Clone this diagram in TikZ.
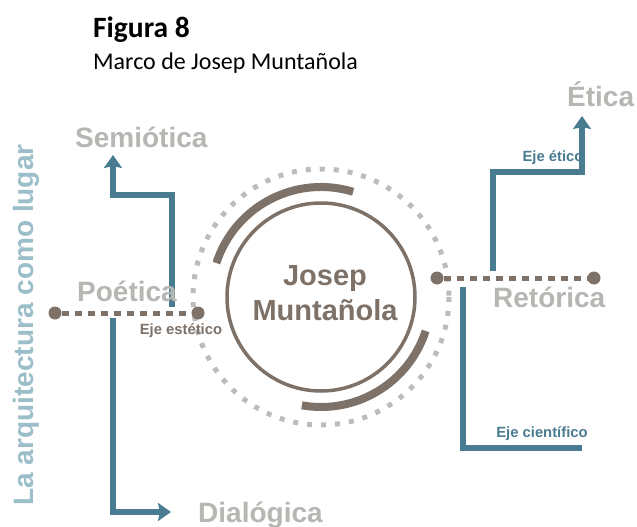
\documentclass[tikz,border=0pt]{standalone}
\usepackage{fontspec}
\setmainfont{Carlito}
\newfontfamily\labfont{Liberation Sans}
\usetikzlibrary{arrows.meta}
\definecolor{blu}{RGB}{74,124,145}
\definecolor{brn}{RGB}{125,113,104}
\definecolor{lgray}{RGB}{182,182,178}
\definecolor{dotgray}{RGB}{188,188,188}
\definecolor{vtext}{RGB}{155,190,201}
\tikzset{
  biglabel/.style={font=\labfont\bfseries\fontsize{28}{30}\selectfont, text=lgray, inner sep=0, anchor=base west},
  centertext/.style={font=\labfont\bfseries\fontsize{29}{34}\selectfont, text=brn, inner sep=0, anchor=base},
  axislabel/.style={font=\labfont\bfseries\fontsize{14.8}{16}\selectfont, inner sep=0},
  dotnode/.style={circle, fill=brn, inner sep=0, minimum size=13pt},
  axisline/.style={brn, line width=5pt, dash pattern=on 7pt off 6pt},
  blueline/.style={blu, line width=6pt},
  bluearrow/.style={blueline, -{Stealth[width=18pt,length=13pt,inset=2pt]}},
  thickarc/.style={brn, line width=8pt},
}
\begin{document}
\begin{tikzpicture}[x=1pt,y=-1pt]
\useasboundingbox (0,0) rectangle (637,527);
% title
\node[font=\bfseries\fontsize{29.5}{32}\selectfont, inner sep=0, anchor=base west] (fig) at (93,38) {Figura 8};
\node[font=\fontsize{24}{28}\selectfont, inner sep=0, anchor=base west] (sub) at (93,70) {Marco de Josep Muntañola};
% circles
\coordinate (c) at (321,297);
\draw[dotgray, line width=5pt, dash pattern=on 5pt off 9pt] (c) circle[radius=128];
\draw[brn, line width=3.5pt] (c) circle[radius=94];
\draw[thickarc] (c) ++(-73:110) arc[start angle=-73, end angle=-162, radius=110];
\draw[thickarc] (c) ++(100:110) arc[start angle=100, end angle=18, radius=110];
\node[centertext] (jo) at (325,285) {Josep};
\node[centertext] (mu) at (325,320) {Muntañola};
% axes
\node[dotnode] (pl) at (55,313) {};
\node[dotnode] (pr) at (198,313) {};
\node[dotnode] (rl) at (437,278) {};
\node[dotnode] (rr) at (594,278) {};
\draw[axisline] (pl) -- (pr);
\draw[axisline] (rl) -- (rr);
% blue paths
\coordinate (s0) at (172,307);
\coordinate (s1) at (113,155);
\draw[bluearrow] (s0) -- (172,195) -- (113,195) -- (s1);
\coordinate (d0) at (113,318);
\coordinate (d1) at (171,512);
\draw[bluearrow] (d0) -- (113,512) -- (d1);
\coordinate (e0) at (493,271);
\coordinate (e1) at (582,116);
\draw[bluearrow] (e0) -- (493,172) -- (582,172) -- (e1);
\coordinate (k0) at (463,287);
\coordinate (k1) at (582,448);
\draw[blueline] (k0) -- (463,448) -- (k1);
% labels
\node[biglabel] (sem) at (75,147) {Semiótica};
\node[biglabel] (poe) at (77,301) {Poética};
\node[biglabel] (ret) at (493,307) {Retórica};
\node[biglabel] (dia) at (198,522) {Dialógica};
\node[biglabel] (eti) at (567,106) {Ética};
\node[axislabel, text=brn] (est) at (181,331) {Eje estético};
\node[axislabel, text=blu] (etic) at (553,158) {Eje ético};
\node[axislabel, text=blu] (cie) at (542,434) {Eje científico};
\node[font=\labfont\bfseries\fontsize{28}{30}\selectfont, text=vtext, rotate=90, inner sep=0, anchor=base] (arq) at (33,325) {La arquitectura como lugar};
\end{tikzpicture}
\end{document}
